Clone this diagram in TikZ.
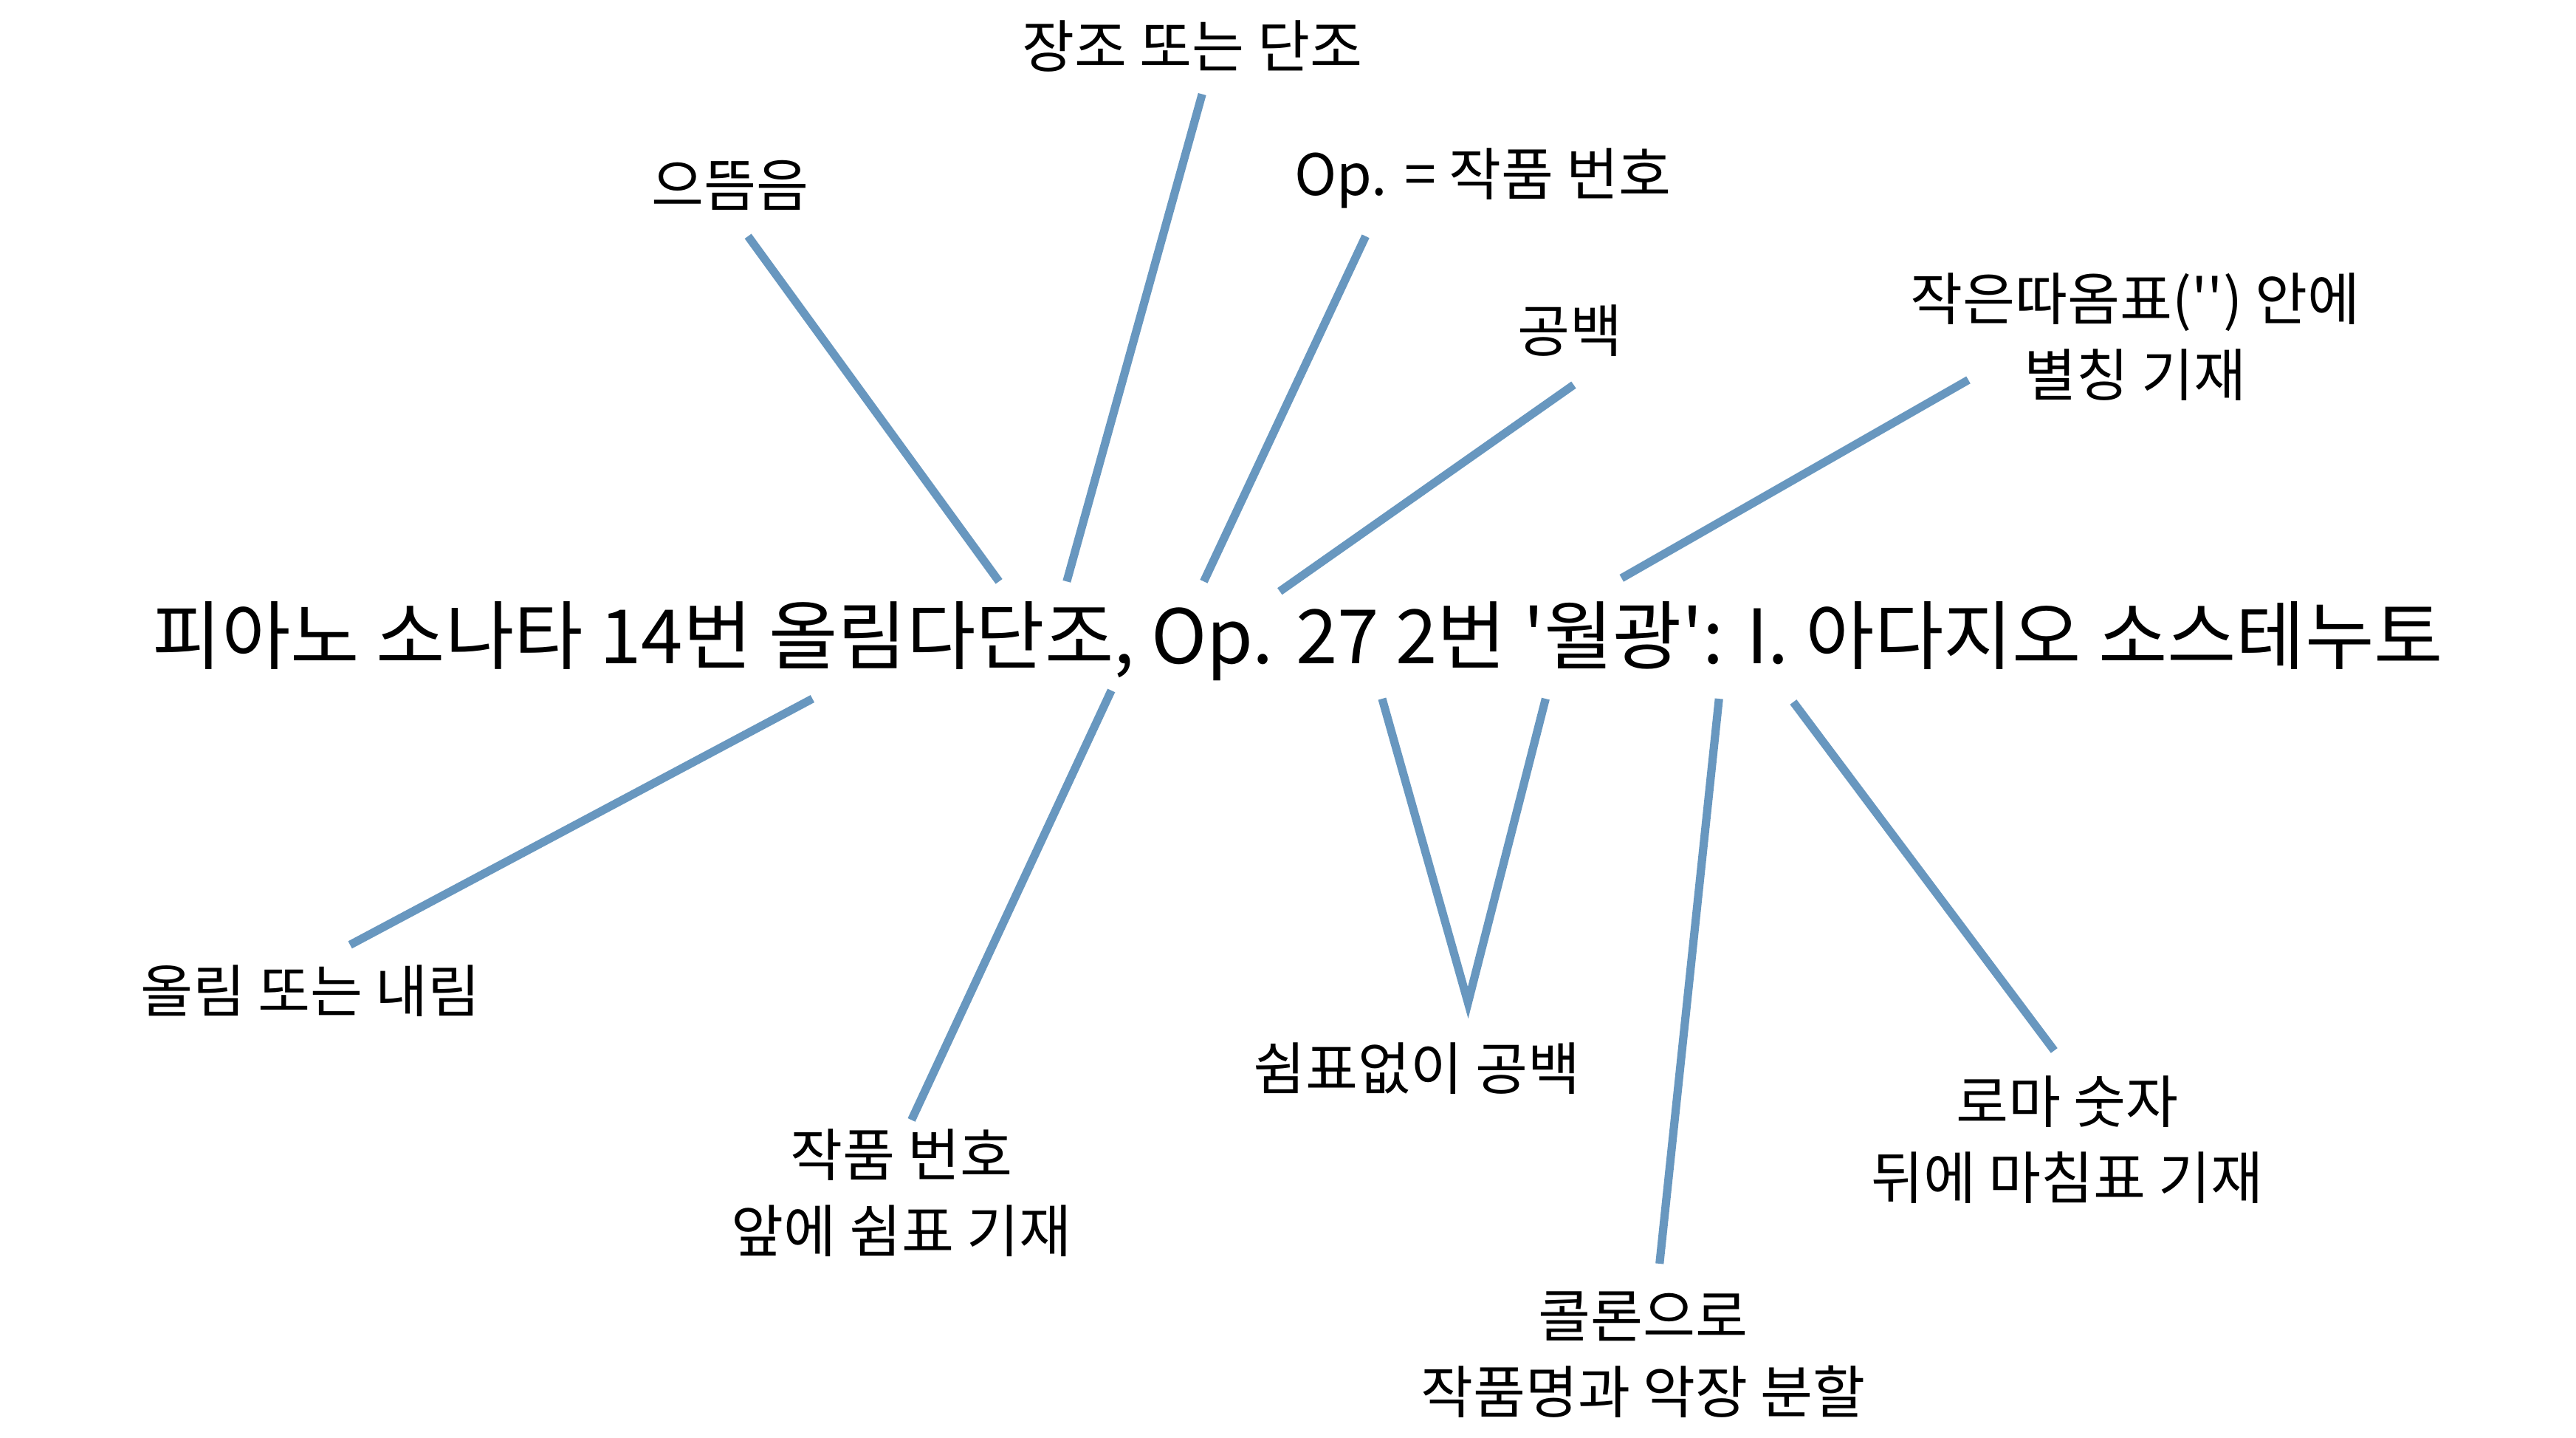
\documentclass[tikz,border=0pt]{standalone}
\usepackage{fontspec}
\setmainfont{Noto Sans CJK KR}
\definecolor{lineblue}{RGB}{104,151,191}
\newcommand{\sq}{\textquotesingle}
\begin{document}
\begin{tikzpicture}[x=1pt,y=-1pt,
  conn/.style={draw=lineblue,line width=5pt},
  lbl/.style={font=\fontsize{34.5}{46}\selectfont,align=center,inner sep=0pt},
  ttl/.style={font=\fontsize{45.4}{54}\selectfont,inner sep=0pt}]
\useasboundingbox (0,0) rectangle (1560,870.5);
\node[ttl] (title) at (786,388) {피아노 소나타 14번 올림다단조, Op. 27 2번 \sq 월광\sq: I. 아다지오 소스테누토};
\node[lbl] (l1) at (722,28) {장조 또는 단조};
\node[lbl] (l2) at (442,112) {으뜸음};
\node[lbl] (l3) at (898,108) {Op. = 작품 번호};
\node[lbl] (l4) at (951,200) {공백};
\node[lbl] (l5) at (1293,204) {작은따옴표(\sq\sq) 안에\\별칭 기재};
\node[lbl] (l6) at (188,600) {올림 또는 내림};
\node[lbl] (l7) at (546,722) {작품 번호\\앞에 쉼표 기재};
\node[lbl] (l8) at (858,647) {쉼표없이 공백};
\node[lbl] (l9) at (995,820) {콜론으로\\작품명과 악장 분할};
\node[lbl] (l10) at (1252,690) {로마 숫자\\뒤에 마침표 기재};
% endpoints
\coordinate (a1) at (453,143); \coordinate (b1) at (605,352);
\coordinate (a2) at (728,57);  \coordinate (b2) at (646,352);
\coordinate (a3) at (827,143); \coordinate (b3) at (729,352);
\coordinate (a4) at (953,233); \coordinate (b4) at (775,358);
\coordinate (a5) at (1192,230); \coordinate (b5) at (982,350);
\coordinate (a6) at (212,572); \coordinate (b6) at (492,423);
\coordinate (a7) at (552,678); \coordinate (b7) at (673,418);
\coordinate (b8a) at (837,423); \coordinate (a8) at (889,607); \coordinate (b8b) at (936,423);
\coordinate (a9) at (1005,765); \coordinate (b9) at (1041,423);
\coordinate (a10) at (1244,636); \coordinate (b10) at (1086,425);
\draw[conn] (a1) -- (b1);
\draw[conn] (a2) -- (b2);
\draw[conn] (a3) -- (b3);
\draw[conn] (a4) -- (b4);
\draw[conn] (a5) -- (b5);
\draw[conn] (a6) -- (b6);
\draw[conn] (a7) -- (b7);
\draw[conn] (b8a) -- (a8) -- (b8b);
\draw[conn] (a9) -- (b9);
\draw[conn] (a10) -- (b10);
\end{tikzpicture}
\end{document}
